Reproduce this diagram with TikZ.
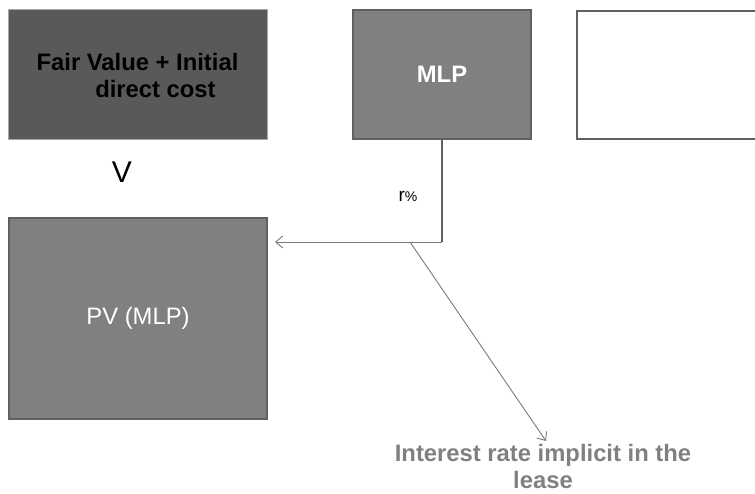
\documentclass[tikz,border=0pt]{standalone}
\usepackage{fontspec}
\setmainfont{Liberation Sans}
\usetikzlibrary{arrows.meta}
\definecolor{darkfill}{HTML}{595959}
\definecolor{midfill}{HTML}{808080}
\definecolor{edgegray}{HTML}{606060}
\definecolor{lightedge}{HTML}{A8A8A8}
\definecolor{linegray}{HTML}{7A7A7A}
\begin{document}
\begin{tikzpicture}[x=1pt,y=-1pt,
  every node/.style={font=\fontsize{23.8}{28.5}\selectfont},
  boldtext/.style={font=\fontsize{23.8}{27}\selectfont\bfseries},
  boxdark/.style={draw=lightedge, line width=1pt, fill=darkfill, inner sep=0pt, align=center},
  boxmid/.style={draw=edgegray, line width=2pt, fill=midfill, inner sep=0pt, text=white, align=center},
  boxwhite/.style={draw=edgegray, line width=2pt, fill=white, inner sep=0pt},
  conn/.style={draw=linegray, line width=0.9pt, -{Straight Barb[length=7pt,width=12pt,line width=0.9pt]}}
]
\useasboundingbox (0,0) rectangle (755,494);
\clip (0,0) rectangle (755,494);
\node[boxdark, boldtext, minimum width=259pt, minimum height=130pt] (fv) at (137.5,75)
  {Fair Value + Initial\\\hspace*{36pt}direct cost};
\node[boxmid, boldtext, minimum width=178pt, minimum height=129pt] (mlp) at (442,74.5) {MLP};
\node[boxwhite, minimum width=190pt, minimum height=128pt] (blank) at (672,75) {};
\node (v) at (122,172) {\fontsize{30}{30}\selectfont V};
\node (r) at (408,196) {\fontsize{19}{19}\selectfont r\fontsize{14}{14}\selectfont\%};
\node[boxmid, minimum width=258pt, minimum height=201pt] (pv) at (138,318.5) {PV (MLP)};
\node[boldtext, text=midfill, align=center, inner sep=0pt] (ir) at (543,466) {Interest rate implicit in the\\lease};
\coordinate (corner) at (442,242);
\coordinate (split) at (410,242);
\coordinate (pvend) at (275,242);
\coordinate (irtip) at (546,441);
\draw[draw=edgegray, line width=1.6pt] (mlp.south) -- (corner);
\draw[conn] (corner) -- (pvend);
\draw[conn] (split) -- (irtip);
\end{tikzpicture}
\end{document}
